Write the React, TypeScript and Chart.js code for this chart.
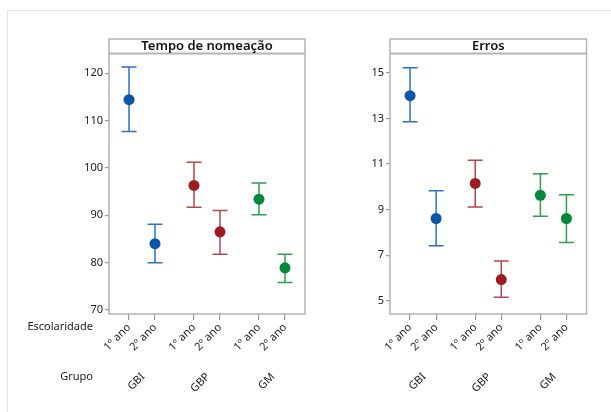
import React, { useEffect, useRef } from "react";
import { Chart, registerables } from "chart.js";

Chart.register(...registerables);

// ---- Data ----
const groups = ["GBI", "GBP", "GM"];
const escolaridade = ["1º ano", "2º ano"];
const groupColors = ["#0B56A6", "#9C1C22", "#00893A"];
const barColors = ["#2A72C2", "#B8464A", "#2CA050"];

const tempoMean = [114.4, 84.0, 96.3, 86.5, 93.4, 78.9];
const tempoLower = [107.7, 80.0, 91.7, 81.8, 90.1, 75.8];
const tempoUpper = [121.3, 88.1, 101.2, 91.0, 96.8, 81.8];
const tempoTicks = [70, 80, 90, 100, 110, 120];

const errosMean = [14.0, 8.61, 10.15, 5.93, 9.63, 8.61];
const errosLower = [12.85, 7.41, 9.12, 5.15, 8.71, 7.56];
const errosUpper = [15.22, 9.83, 11.17, 6.75, 10.57, 9.65];
const errosTicks = [5, 7, 9, 11, 13, 15];

const FONT = "'Noto Sans', 'Open Sans', sans-serif";
const GROUP_GAP = 2.5;

function xPos(i: number) {
  const g = Math.floor(i / 2);
  const e = i % 2;
  return g * GROUP_GAP + e;
}
const nPts = groups.length * escolaridade.length;
const positions = Array.from({ length: nPts }, (_, i) => xPos(i));

const HEADER_TOP = 39;
const PLOT_TOP = 53.5;
const PLOT_BOTTOM = 314;

function makeConfig(opts: {
  title: string;
  mean: number[];
  lower: number[];
  upper: number[];
  ticks: number[];
  yMin: number;
  yMax: number;
  yAxisWidth: number;
  padRight: number;
  canvasH: number;
  drawSideLabels: boolean;
}) {
  const panelPlugin = {
    id: "panel",
    beforeDatasetsDraw(chart: any) {
      const ctx = chart.ctx;
      const xs = chart.scales.x;
      const ys = chart.scales.y;
      ctx.save();
      ctx.lineWidth = 1.5;
      for (let i = 0; i < opts.mean.length; i++) {
        const g = Math.floor(i / 2);
        const x = xs.getPixelForValue(positions[i]);
        const yl = ys.getPixelForValue(opts.lower[i]);
        const yu = ys.getPixelForValue(opts.upper[i]);
        ctx.strokeStyle = barColors[g];
        ctx.beginPath();
        ctx.moveTo(x, yl);
        ctx.lineTo(x, yu);
        ctx.moveTo(x - 7.5, yl);
        ctx.lineTo(x + 7.5, yl);
        ctx.moveTo(x - 7.5, yu);
        ctx.lineTo(x + 7.5, yu);
        ctx.stroke();
      }
      ctx.restore();
    },
    afterDraw(chart: any) {
      const ctx = chart.ctx;
      const a = chart.chartArea;
      const xs = chart.scales.x;
      ctx.save();
      ctx.strokeStyle = "#b4b4b4";
      ctx.lineWidth = 1.5;
      ctx.strokeRect(a.left, HEADER_TOP, a.right - a.left, a.bottom - HEADER_TOP);
      ctx.lineWidth = 2.2;
      ctx.beginPath();
      ctx.moveTo(a.left, a.top);
      ctx.lineTo(a.right, a.top);
      ctx.stroke();
      ctx.fillStyle = "#111";
      ctx.font = `600 13px ${FONT}`;
      ctx.textAlign = "center";
      ctx.textBaseline = "middle";
      ctx.fillText(opts.title, (a.left + a.right) / 2, (HEADER_TOP + a.top) / 2 + 0.5);

      ctx.fillStyle = "#1a1a1a";
      ctx.font = `11px ${FONT}`;
      for (let g = 0; g < groups.length; g++) {
        const cx = xs.getPixelForValue((positions[g * 2] + positions[g * 2 + 1]) / 2);
        ctx.save();
        ctx.translate(cx + 1, 375);
        ctx.rotate(-Math.PI / 4);
        ctx.textAlign = "right";
        ctx.textBaseline = "middle";
        ctx.fillText(groups[g], 0, 0);
        ctx.restore();
      }
      if (opts.drawSideLabels) {
        ctx.textAlign = "right";
        ctx.textBaseline = "middle";
        ctx.fillText("Escolaridade", 93, 327);
        ctx.fillText("Grupo", 93, 377);
      }
      ctx.restore();
    },
  };

  return {
    type: "scatter" as const,
    data: {
      datasets: [
        {
          data: opts.mean.map((m, i) => ({ x: positions[i], y: m })),
          pointRadius: 5.5,
          pointHoverRadius: 5.5,
          pointBorderWidth: 0,
          pointBackgroundColor: opts.mean.map((_, i) => groupColors[Math.floor(i / 2)]),
          pointBorderColor: opts.mean.map((_, i) => groupColors[Math.floor(i / 2)]),
        },
      ],
    },
    options: {
      responsive: false,
      animation: false,
      devicePixelRatio: 1,
      events: [],
      layout: { padding: { top: PLOT_TOP, right: opts.padRight, bottom: 0, left: 0 } },
      plugins: { legend: { display: false }, tooltip: { enabled: false }, title: { display: false } },
      scales: {
        x: {
          type: "linear",
          min: -0.77,
          max: positions[positions.length - 1] + 0.77,
          afterBuildTicks: (s: any) => {
            s.ticks = positions.map((v) => ({ value: v }));
          },
          afterFit: (s: any) => {
            s.height = opts.canvasH - PLOT_BOTTOM;
          },
          ticks: {
            autoSkip: false,
            minRotation: 45,
            maxRotation: 45,
            padding: 1,
            color: "#1a1a1a",
            font: { family: FONT, size: 11 },
            callback: (v: any) => {
              const idx = positions.indexOf(v);
              return idx >= 0 ? escolaridade[idx % 2] : "";
            },
          },
          grid: { drawOnChartArea: false, drawTicks: true, tickLength: 6, color: "#9a9a9a", lineWidth: 1.2 },
          border: { display: false },
        },
        y: {
          type: "linear",
          min: opts.yMin,
          max: opts.yMax,
          afterBuildTicks: (s: any) => {
            s.ticks = opts.ticks.map((v) => ({ value: v }));
          },
          afterFit: (s: any) => {
            s.width = opts.yAxisWidth;
          },
          ticks: {
            padding: 2,
            color: "#1a1a1a",
            font: { family: FONT, size: 11 },
          },
          grid: { drawOnChartArea: false, drawTicks: true, tickLength: 4, color: "#9a9a9a", lineWidth: 1.2 },
          border: { display: false },
        },
      },
    },
    plugins: [panelPlugin],
  };
}

function Panel(props: { left: number; width: number; height: number; cfg: any }) {
  const ref = useRef<HTMLCanvasElement | null>(null);
  useEffect(() => {
    if (!ref.current) return;
    const chart = new Chart(ref.current, props.cfg);
    return () => chart.destroy();
  }, []);
  return (
    <canvas
      ref={ref}
      width={props.width}
      height={props.height}
      style={{ position: "absolute", left: props.left, top: 0, width: props.width, height: props.height }}
    />
  );
}

export default function App() {
  const H = 412;
  const leftCfg = makeConfig({
    title: "Tempo de nomeação",
    mean: tempoMean,
    lower: tempoLower,
    upper: tempoUpper,
    ticks: tempoTicks,
    yMin: 69.16,
    yMax: 124.16,
    yAxisWidth: 109,
    padRight: 345 - 305,
    canvasH: H,
    drawSideLabels: true,
  });
  const rightCfg = makeConfig({
    title: "Erros",
    mean: errosMean,
    lower: errosLower,
    upper: errosUpper,
    ticks: errosTicks,
    yMin: 4.42,
    yMax: 15.85,
    yAxisWidth: 390 - 345,
    padRight: 266 - (586.5 - 345),
    canvasH: H,
    drawSideLabels: false,
  });
  return (
    <div style={{ position: "fixed", left: 0, top: 0, width: 611, height: 412, background: "#fff", overflow: "hidden" }}>
      <div
        style={{
          position: "absolute",
          left: 7,
          top: 10,
          width: 640,
          height: 440,
          border: "1px solid #e6e6e6",
        }}
      />
      <Panel left={0} width={345} height={H} cfg={leftCfg} />
      <Panel left={345} width={266} height={H} cfg={rightCfg} />
    </div>
  );
}
